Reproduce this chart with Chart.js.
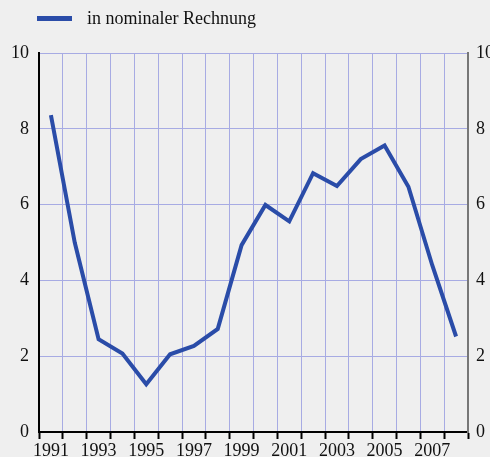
<!DOCTYPE html>
<html>
<head>
<meta charset="utf-8">
<script src="https://cdn.jsdelivr.net/npm/chart.js@4/dist/chart.umd.min.js"></script>
<style>
  html, body { margin: 0; padding: 0; background: #efefef; overflow: hidden; }
  #wrap { width: 510px; height: 470px; }
</style>
</head>
<body>
<div id="wrap"><canvas id="chart" width="510" height="470"></canvas></div>
<script>
const years = ["1991", "1992", "1993", "1994", "1995", "1996", "1997", "1998", "1999",
               "2000", "2001", "2002", "2003", "2004", "2005", "2006", "2007", "2008"];
const nominal = [8.36, 5.0, 2.45, 2.07, 1.26, 2.05, 2.27, 2.72, 4.93,
                 5.99, 5.56, 6.83, 6.49, 7.2, 7.56, 6.47, 4.4, 2.52];
const yearTicks = ["1991", "1993", "1995", "1997", "1999", "2001", "2003", "2005", "2007"];
const valueTicks = [0, 2, 4, 6, 8, 10];

const BLUE = "#2a4ca8";
const GRID = "#a7abe3";
const FONT = { family: "'Liberation Serif', 'Times New Roman', serif", size: 18 };

// legend drawn by hand: a short thick line followed by the series name
const keyLegend = {
  id: "keyLegend",
  afterDraw(chart) {
    const ctx = chart.ctx;
    const ds = chart.data.datasets[0];
    ctx.save();
    ctx.strokeStyle = ds.borderColor;
    ctx.lineWidth = 5;
    ctx.beginPath();
    ctx.moveTo(37, 18.5);
    ctx.lineTo(72, 18.5);
    ctx.stroke();
    ctx.fillStyle = "#111";
    ctx.font = "18px " + FONT.family;
    ctx.textBaseline = "middle";
    ctx.fillText(ds.label, 87, 19);
    ctx.restore();
  }
};

new Chart(document.getElementById("chart"), {
  type: "line",
  data: {
    labels: years,
    datasets: [{
      label: "in nominaler Rechnung",
      data: nominal,
      borderColor: BLUE,
      backgroundColor: BLUE,
      borderWidth: 4,
      borderJoinStyle: "miter",
      borderCapStyle: "butt",
      pointRadius: 0,
      tension: 0,
      yAxisID: "y"
    }]
  },
  options: {
    responsive: false,
    animation: false,
    layout: { padding: { top: 53, left: 0, right: 0, bottom: 0 } },
    plugins: { legend: { display: false }, tooltip: { enabled: false } },
    scales: {
      x: {
        offset: true,
        grid: {
          offset: true,
          color: GRID,
          lineWidth: 1,
          tickColor: "#000",
          tickWidth: 2,
          tickLength: 7
        },
        border: { color: "#000", width: 2 },
        ticks: {
          autoSkip: false,
          maxRotation: 0,
          padding: 1,
          color: "#111",
          font: FONT,
          callback: (v, i) => yearTicks.includes(years[i]) ? years[i] : ""
        },
        afterFit: s => { s.height = 38; }
      },
      y: {
        position: "left",
        min: 0,
        max: 10,
        afterBuildTicks: s => { s.ticks = valueTicks.map(v => ({ value: v })); },
        grid: { color: GRID, lineWidth: 1, drawTicks: false },
        border: { color: "#000", width: 2 },
        ticks: { padding: 10, color: "#111", font: FONT },
        afterFit: s => { s.width = 39; }
      },
      y2: {
        position: "right",
        min: 0,
        max: 10,
        afterBuildTicks: s => { s.ticks = valueTicks.map(v => ({ value: v })); },
        grid: { drawOnChartArea: false, drawTicks: false },
        border: { color: "#777", width: 2 },
        ticks: { padding: 8, color: "#111", font: FONT },
        afterFit: s => { s.width = 42; }
      }
    }
  },
  plugins: [keyLegend]
});
</script>
</body>
</html>
